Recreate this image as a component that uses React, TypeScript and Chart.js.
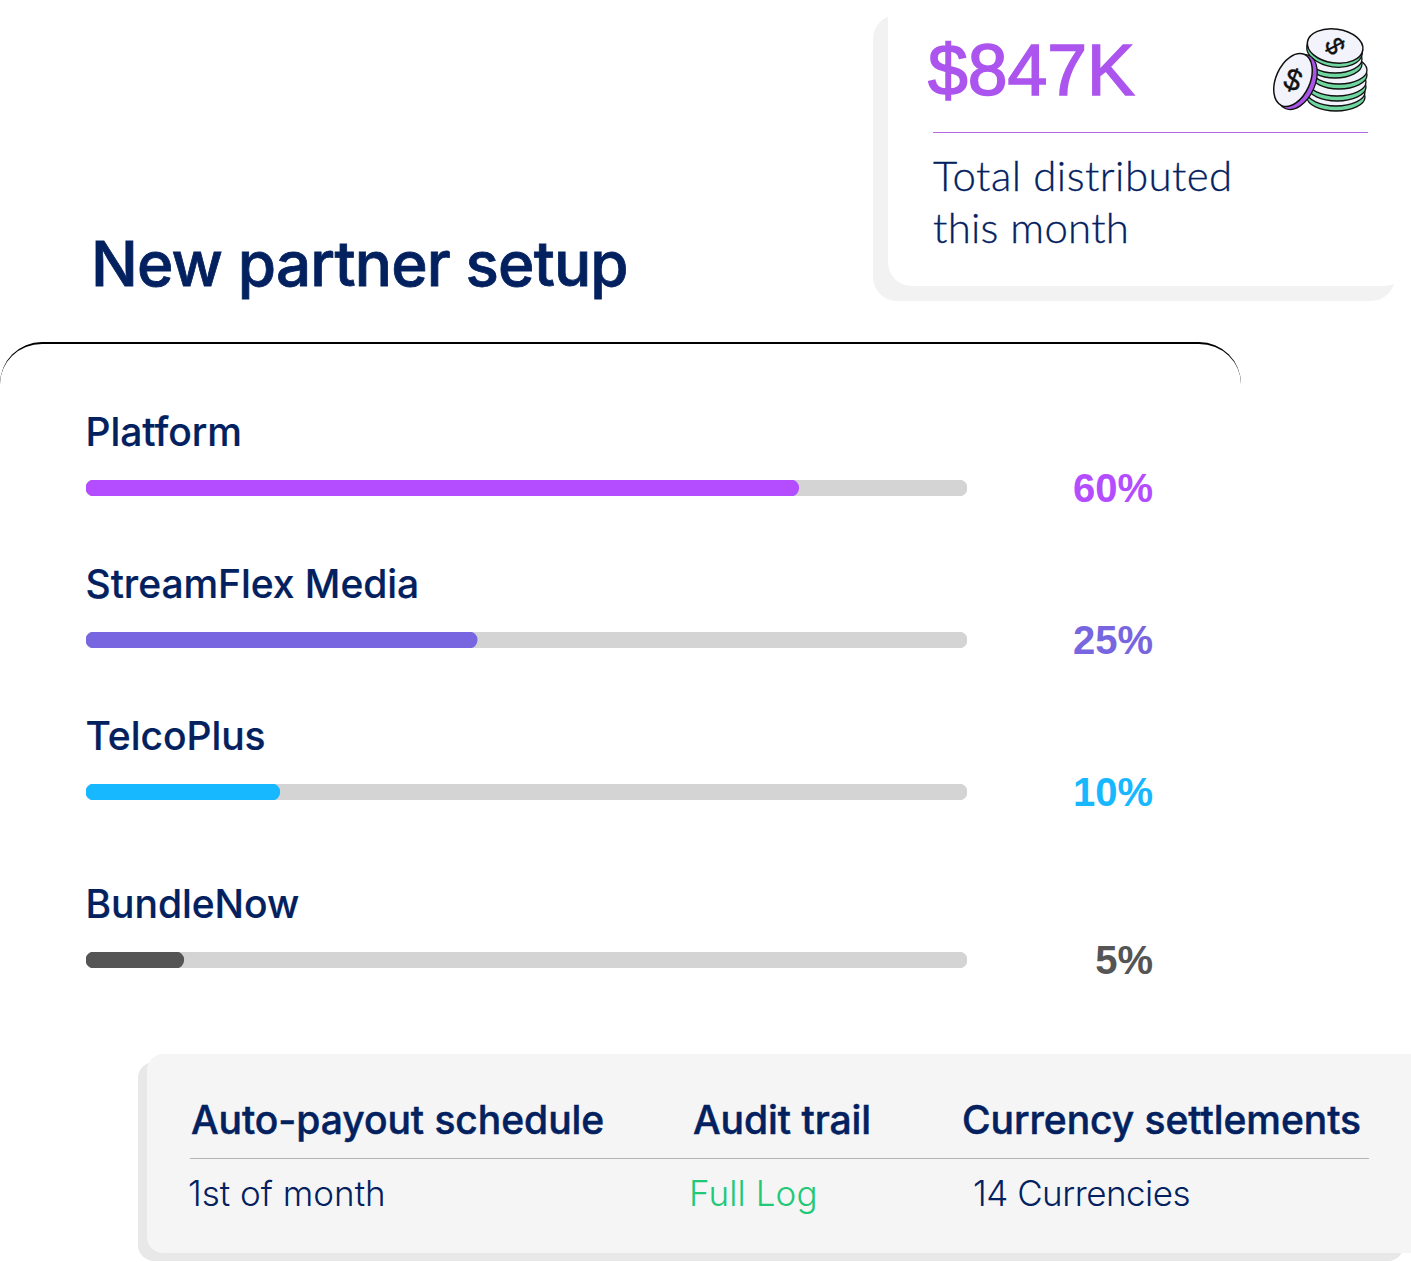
import { useEffect, useRef } from 'react';
import Chart from 'chart.js/auto';

// names, the printed share and how far each bar is actually filled
const partners = ['Platform', 'StreamFlex Media', 'TelcoPlus', 'BundleNow'];
const shareLabels = ['60%', '25%', '10%', '5%'];
const barFill = [80.9, 44.4, 22, 11.1];
const trackMax = [100, 100, 100, 100];
const barColors = ['#b34dff', '#7866e0', '#17b8ff', '#555555'];
const rowTops = [411, 563, 715, 883];

const footerHeads = ['Auto-payout schedule', 'Audit trail', 'Currency settlements'];
const footerValues = ['1st of month', 'Full Log', '14 Currencies'];

const NAVY = '#03215f';
const SANS = '"Liberation Sans", Arial, sans-serif';

function Bar({ index }: { index: number }) {
  const ref = useRef<HTMLCanvasElement>(null);

  useEffect(() => {
    if (!ref.current) return;
    const chart = new Chart(ref.current, {
      type: 'bar',
      data: {
        labels: [partners[index]],
        datasets: [
          {
            data: [barFill[index]],
            backgroundColor: barColors[index],
            borderRadius: 8,
            borderSkipped: false,
            grouped: false,
            barPercentage: 1,
            categoryPercentage: 1,
          },
          {
            data: [trackMax[index]],
            backgroundColor: '#d4d4d4',
            borderRadius: 8,
            borderSkipped: false,
            grouped: false,
            barPercentage: 1,
            categoryPercentage: 1,
          },
        ],
      },
      options: {
        indexAxis: 'y',
        animation: false,
        responsive: false,
        devicePixelRatio: 1,
        layout: { padding: 0 },
        scales: {
          x: { display: false, min: 0, max: 100 },
          y: { display: false },
        },
        plugins: { legend: { display: false }, tooltip: { enabled: false } },
      },
    });
    return () => chart.destroy();
  }, [index]);

  return (
    <canvas
      ref={ref}
      width={881}
      height={16}
      style={{ position: 'absolute', left: 86, top: rowTops[index] + 69, width: 881, height: 16 }}
    />
  );
}

function text(left: number, top: number, size: number, color: string, font = SANS, weight = 400, spacing = 0, stroke = 0) {
  return {
    position: 'absolute' as const,
    left,
    top,
    fontSize: size,
    fontWeight: weight,
    letterSpacing: spacing,
    lineHeight: `${size + 4}px`,
    color,
    fontFamily: font,
    WebkitTextStroke: stroke ? `${stroke}px ${color}` : undefined,
    whiteSpace: 'nowrap' as const,
  };
}

function Coin({ cx, cy, rx, ry }: { cx: number; cy: number; rx: number; ry: number }) {
  return (
    <g>
      <ellipse cx={cx} cy={cy + 5} rx={rx} ry={ry} fill="#6fd6a0" stroke="#111" strokeWidth="1.3" />
      <ellipse cx={cx} cy={cy} rx={rx} ry={ry} fill="#f2f3fb" stroke="#111" strokeWidth="1.3" />
    </g>
  );
}

function Coins() {
  return (
    <svg width="100" height="90" viewBox="0 0 100 90" style={{ position: 'absolute', left: 1272, top: 26 }}>
      <Coin cx={64} cy={66} rx={29} ry={14} />
      <Coin cx={65} cy={56} rx={29} ry={14} />
      <Coin cx={67} cy={44} rx={28} ry={14} />
      <Coin cx={63} cy={33} rx={27} ry={14} />
      <g transform="rotate(8 63 21)">
        <ellipse cx={63} cy={24} rx={28} ry={17} fill="#6fd6a0" stroke="#111" strokeWidth="1.3" />
        <ellipse cx={63} cy={20} rx={28} ry={17} fill="#f2f3fb" stroke="#111" strokeWidth="1.5" />
      </g>
      <text x={63} y={29} fontSize="26" textAnchor="middle" fontFamily={SANS} fill="#111" stroke="#111" strokeWidth="0.4" transform="rotate(62 63 20)">$</text>
      <ellipse cx={25} cy={56} rx={18} ry={29} fill="#a855e8" stroke="#111" strokeWidth="1.3" transform="rotate(24 25 56)" />
      <ellipse cx={21} cy={54} rx={17} ry={28} fill="#f2f3fb" stroke="#111" strokeWidth="1.5" transform="rotate(24 21 54)" />
      <text x={21} y={64} fontSize="30" textAnchor="middle" fontFamily={SANS} fill="#111" stroke="#111" strokeWidth="0.4" transform="rotate(20 21 54)">$</text>
    </svg>
  );
}

export default function App() {
  return (
    <div style={{ position: 'absolute', left: 0, top: 0, width: 1411, height: 1262, overflow: 'hidden', background: '#fff' }}>
      {/* top right stat card */}
      <div style={{ position: 'absolute', left: 873, top: 15, width: 522, height: 286, background: '#f2f2f2', borderRadius: 24 }} />
      <div style={{ position: 'absolute', left: 888, top: -20, width: 520, height: 306, background: '#fff', borderRadius: 24 }} />
      <div style={text(928, 33, 71.5, '#ac55ee', SANS, 400, 0, 1.6)}>$847K</div>
      <div style={{ position: 'absolute', left: 933, top: 132, width: 435, height: 1, background: '#b56ae0' }} />
      <div style={text(933, 152, 42, NAVY, 'Lato', 300, 0.45, 0.3)}>Total distributed</div>
      <div style={text(933, 204, 42, NAVY, 'Lato', 300, 0.25, 0.3)}>this month</div>
      <Coins />

      <div style={text(91, 231, 62, NAVY, 'Inter', 500, -0.85, 0.8)}>New partner setup</div>

      {/* panel outline, side borders are 0 so the corners taper off */}
      <div
        style={{
          position: 'absolute',
          left: 0,
          top: 342,
          width: 1241,
          height: 44,
          boxSizing: 'border-box',
          borderTop: '2px solid #000',
          borderRadius: '42px 42px 0 0',
        }}
      />

      {partners.map((name, i) => (
        <div key={name}>
          <div style={text(85.5, rowTops[i] - 1, 39, NAVY, 'Inter', 500, -0.05, 0.2)}>{name}</div>
          <Bar index={i} />
          <div style={{ ...text(0, rowTops[i] + 55, 40, barColors[i], SANS, 700, 0), left: 'auto', right: 1411 - 1153 }}>
            {shareLabels[i]}
          </div>
        </div>
      ))}

      {/* bottom strip */}
      <div style={{ position: 'absolute', left: 138, top: 1062, width: 1266, height: 199, background: '#e8e8e8', borderRadius: 16 }} />
      <div style={{ position: 'absolute', left: 147, top: 1054, width: 1280, height: 199, background: '#f5f5f6', borderRadius: 16 }} />
      <div style={{ position: 'absolute', left: 190, top: 1158, width: 1179, height: 1, background: '#b5b5b5' }} />
      <div style={text(191, 1098, 39, NAVY, 'Inter', 500, -0.05, 0.5)}>{footerHeads[0]}</div>
      <div style={text(693, 1098, 39, NAVY, 'Inter', 500, -0.05, 0.5)}>{footerHeads[1]}</div>
      <div style={text(962, 1098, 39, NAVY, 'Inter', 500, -0.05, 0.5)}>{footerHeads[2]}</div>
      <div style={text(188, 1174, 35, NAVY, 'Inter', 300, 0)}>{footerValues[0]}</div>
      <div style={text(689, 1174, 35, '#1fc978', 'Inter', 300, 0.1)}>{footerValues[1]}</div>
      <div style={text(973, 1174, 35, NAVY, 'Inter', 300, -0.5)}>{footerValues[2]}</div>
    </div>
  );
}
